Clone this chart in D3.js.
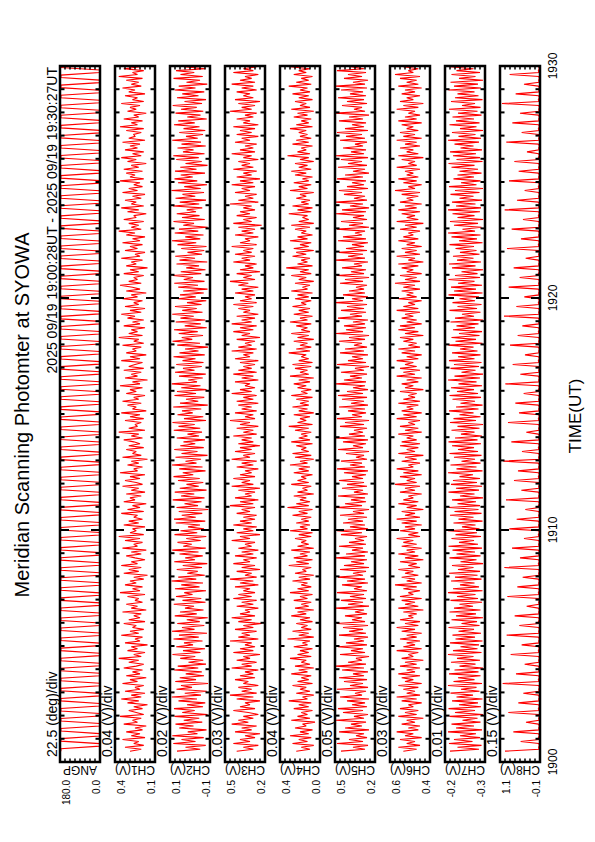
<!DOCTYPE html>
<html><head><meta charset="utf-8">
<script src="https://cdn.jsdelivr.net/npm/d3@7"></script>
<style>body{margin:0;background:#fff}svg{display:block}text{font-family:"Liberation Sans",Arial,Helvetica,sans-serif;fill:#000}</style>
</head><body>
<script>
const title = "Meridian Scanning Photomter at SYOWA";
const period = "2025 09/19 19:00:28UT - 2025 09/19 19:30:27UT";
const channels = ["ANGP","CH1(V)","CH2(V)","CH3(V)","CH4(V)","CH5(V)","CH6(V)","CH7(V)","CH8(V)"];
const divLabels = ["22.5 (deg)/div","0.04 (V)/div","0.02 (V)/div","0.03 (V)/div","0.04 (V)/div","0.05 (V)/div","0.03 (V)/div","0.01 (V)/div","0.15 (V)/div"];
const divSize = [22.5,0.04,0.02,0.03,0.04,0.05,0.03,0.01,0.15];
const rangeMin = [0,0.10,-0.08,0.23,0.03,0.14,0.38,-0.25,-0.10];
const labelHigh = ["180.0","0.4","0.1","0.5","0.4","0.5","0.6","-0.2","1.1"];
const labelLow = ["0.0","0.1","-0.1","0.2","0.0","0.2","0.4","-0.3","-0.1"];
const timeTickLabels = ["1900","1910","1920","1930"];
const timeTickSec = [0,600,1200,1800];
const startSec = 28;     // 19:00:28
const angpStep = 6.5;    // seconds between ANGP samples
const chStep = 5;        // seconds between channel samples

const angp = [176,176,2,2,176,176,2,2,176,176,2,2,176,176,2,2,176,176,2,2,176,176,2,2,176,176,2,2,176,176,2,2,
176,176,2,2,176,176,2,2,176,176,2,2,176,176,2,2,176,176,2,2,176,176,2,2,176,176,2,2,176,176,2,2,
176,176,2,2,176,176,2,2,176,176,2,2,176,176,2,2,176,176,2,2,176,176,2,2,176,176,2,2,176,176,2,2,
176,176,2,2,176,176,2,2,176,176,2,2,176,176,2,2,176,176,2,2,176,176,2,2,176,176,2,2,176,176,2,2,
176,176,2,2,176,176,2,2,176,176,2,2,176,176,2,2,176,176,2,2,176,176,2,2,176,176,2,2,176,176,2,2,
176,176,2,2,176,176,2,2,176,176,2,2,176,176,2,2,176,176,2,2,176,176,2,2,176,176,2,2,176,176,2,2,
176,176,2,2,176,176,2,2,176,176,2,2,176,176,2,2,176,176,2,2,176,176,2,2,176,176,2,2,176,176,2,2,
176,176,2,2,176,176,2,2,176,176,2,2,176,176,2,2,176,176,2,2,176,176,2,2,176,176,2,2,176,176,2,2,
176,176,2,2,176,176,2,2,176,176,2,2,176,176,2,2,176];

const ch1 = [.30,.21,.34,.19,.27,.23,.36,.18,.29,.22,.33,.20,.26,.17,.35,.24,.28,.21,.38,.19,
.25,.31,.20,.27,.16,.32,.23,.37,.21,.29,.18,.34,.22,.26,.19,.36,.24,.30,.17,.33,
.22,.28,.20,.35,.25,.19,.31,.23,.39,.21,.27,.18,.32,.24,.29,.16,.34,.22,.26,.20,
.37,.23,.30,.19,.28,.25,.35,.18,.31,.22,.27,.21,.36,.17,.29,.24,.33,.20,.26,.23,
.32,.18,.38,.22,.28,.20,.34,.25,.30,.19,.27,.16,.35,.23,.31,.21,.37,.24,.29,.18,
.26,.33,.21,.29,.17,.36,.24,.27,.20,.34,.22,.39,.19,.30,.25,.28,.18,.35,.23,.31,
.20,.27,.24,.37,.19,.32,.22,.28,.17,.35,.26,.30,.21,.33,.18,.29,.23,.36,.20,.25,
.34,.22,.30,.18,.38,.24,.27,.20,.32,.23,.29,.16,.36,.21,.28,.25,.33,.19,.31,.22,
.27,.35,.20,.29,.23,.39,.18,.31,.24,.26,.21,.34,.19,.30,.22,.37,.17,.28,.25,.32,
.21,.36,.23,.27,.18,.33,.25,.30,.20,.38,.22,.28,.16,.34,.24,.29,.21,.35,.19,.31,
.26,.20,.37,.22,.30,.17,.33,.25,.28,.21,.36,.19,.27,.23,.39,.20,.31,.24,.29,.18,
.35,.22,.28,.19,.32,.26,.37,.21,.30,.18,.34,.23,.27,.20,.36,.24,.29,.17,.33,.22,
.28,.38,.21,.31,.24,.27,.19,.35,.23,.30,.16,.33,.25,.29,.20,.37,.22,.26,.18,.34,
.24,.30,.20,.36,.22,.28,.18,.33,.26,.39,.21,.29,.23,.31,.19,.35,.25,.27,.17,.32,
.23,.37,.19,.29,.25,.34,.21,.28,.18,.36,.24,.31,.20,.27,.22,.38,.19,.30,.26,.33,
.20,.35,.23,.29,.17,.32,.25,.37,.21,.28,.19,.34,.24,.30,.22,.36,.18,.31,.26,.27,
.21,.33,.19,.38,.24,.29,.20,.35,.23,.27,.17,.32,.25,.30,.22,.37,.19,.28,.24,.34,
.18,.31,.26,.36,.21,.29,.23,.33,.20,.39,.24,.28,.19,.35,.22,.30,.17,.34,.25,.29];

const ch2 = [.052,-.041,.018,-.063,.067,-.022,.034,-.055,.071,-.030,.009,-.066,.043,-.014,.058,-.049,.025,-.037,.062,-.070,
.031,-.019,.064,-.052,.012,-.061,.046,-.028,.073,-.044,.021,-.067,.054,-.008,.036,-.072,.059,-.024,.041,-.056,
.017,-.047,.063,-.033,.049,-.064,.006,-.053,.039,-.021,.070,-.042,.028,-.060,.055,-.012,.024,-.050,.066,-.035,
.044,-.068,.072,-.018,.032,-.057,.051,-.039,.013,-.071,.061,-.027,.040,-.054,.020,-.016,.065,-.062,.030,-.045,
.056,-.010,.023,-.064,.060,-.038,.035,-.052,.074,-.025,.047,-.059,.011,-.031,.053,-.048,.029,-.069,.063,-.020,
.019,-.051,.042,-.034,.071,-.063,.027,-.007,.050,-.043,.015,-.065,.062,-.029,.038,-.056,.008,-.040,.057,-.061,
.064,-.023,.033,-.049,.045,-.073,.054,-.032,.022,-.046,.069,-.058,.036,-.017,.061,-.066,.041,-.035,.014,-.053,
.048,-.039,.066,-.013,.029,-.062,.043,-.050,.072,-.026,.018,-.044,.058,-.070,.034,-.030,.063,-.055,.039,-.021,
.026,-.060,.053,-.036,.010,-.048,.065,-.041,.046,-.019,.070,-.064,.024,-.053,.050,-.011,.032,-.045,.067,-.071,
.040,-.033,.016,-.057,.062,-.024,.052,-.066,.035,-.042,.073,-.028,.007,-.051,.044,-.063,.060,-.018,.028,-.047,
.055,-.054,.030,-.022,.066,-.059,.042,-.034,.020,-.072,.051,-.040,.070,-.009,.033,-.052,.045,-.031,.064,-.067,
.021,-.043,.057,-.061,.038,-.015,.071,-.050,.031,-.027,.060,-.046,.012,-.065,.049,-.023,.040,-.055,.027,-.070,
.047,-.032,.063,-.058,.025,-.012,.068,-.045,.037,-.062,.015,-.036,.054,-.069,.042,-.020,.059,-.048,.010,-.057,
.035,-.066,.050,-.025,.072,-.041,.019,-.054,.061,-.033,.044,-.071,.027,-.016,.066,-.059,.032,-.038,.053,-.024,
.013,-.049,.068,-.037,.041,-.064,.058,-.021,.030,-.056,.074,-.043,.023,-.068,.048,-.029,.062,-.011,.037,-.060,
.060,-.026,.039,-.070,.018,-.047,.055,-.035,.067,-.058,.028,-.014,.050,-.063,.034,-.044,.071,-.031,.016,-.052,
.043,-.061,.026,-.038,.064,-.019,.047,-.067,.011,-.042,.058,-.053,.036,-.027,.069,-.048,.022,-.064,.052,-.034,
.031,-.057,.061,-.022,.045,-.069,.014,-.040,.066,-.051,.038,-.017,.056,-.062,.024,-.035,.070,-.046,.042,-.028];

const ch3 = [.40,.30,.36,.27,.42,.32,.38,.29,.35,.26,.41,.31,.37,.28,.43,.33,.39,.30,.36,.27,
.33,.42,.29,.38,.32,.35,.26,.40,.30,.44,.28,.37,.31,.39,.27,.36,.33,.41,.29,.38,
.30,.35,.27,.43,.31,.37,.28,.40,.32,.36,.26,.42,.30,.38,.29,.35,.31,.44,.27,.39,
.32,.37,.28,.41,.30,.36,.25,.39,.31,.43,.29,.38,.32,.35,.27,.40,.30,.37,.28,.42,
.31,.39,.29,.36,.32,.41,.27,.38,.30,.44,.28,.35,.31,.40,.26,.37,.29,.42,.32,.36,
.28,.41,.30,.37,.27,.39,.31,.35,.29,.43,.32,.38,.26,.40,.30,.36,.28,.42,.31,.38,
.29,.36,.28,.40,.32,.37,.29,.44,.30,.38,.27,.41,.31,.35,.29,.39,.26,.43,.30,.37,
.32,.42,.29,.38,.31,.35,.27,.40,.30,.37,.28,.43,.32,.36,.29,.41,.31,.38,.26,.39,
.30,.37,.31,.42,.28,.36,.30,.40,.27,.38,.32,.44,.29,.35,.30,.41,.28,.37,.31,.39,
.27,.40,.30,.36,.28,.43,.31,.38,.29,.35,.32,.41,.27,.37,.30,.42,.28,.39,.31,.36,
.29,.38,.27,.41,.32,.36,.30,.43,.28,.39,.31,.35,.29,.40,.26,.37,.32,.42,.30,.38,
.28,.43,.31,.37,.29,.40,.27,.36,.32,.39,.30,.42,.28,.38,.31,.35,.29,.41,.30,.37,
.27,.39,.33,.44,.29,.36,.31,.40,.26,.38,.30,.35,.28,.42,.32,.37,.29,.41,.31,.36,
.30,.43,.28,.38,.32,.35,.27,.41,.30,.37,.29,.39,.25,.42,.31,.36,.28,.40,.32,.38,
.29,.36,.31,.44,.27,.39,.30,.35,.28,.41,.32,.37,.29,.43,.30,.38,.26,.40,.31,.36,
.28,.42,.30,.37,.32,.39,.27,.36,.31,.43,.29,.38,.30,.35,.28,.41,.32,.37,.27,.40,
.31,.38,.29,.42,.27,.36,.32,.40,.30,.35,.28,.44,.31,.37,.29,.39,.26,.41,.30,.36,
.32,.40,.28,.37,.30,.43,.29,.38,.31,.35,.27,.42,.30,.36,.28,.39,.32,.41,.29,.37];

const ch4 = [.22,.11,.18,.08,.25,.13,.20,.10,.27,.12,.19,.09,.23,.14,.17,.07,.26,.11,.21,.13,
.18,.09,.24,.12,.20,.10,.28,.13,.17,.08,.22,.11,.19,.14,.25,.09,.21,.12,.18,.10,
.26,.13,.20,.08,.23,.11,.18,.14,.27,.10,.21,.12,.19,.09,.24,.13,.17,.11,.29,.08,
.20,.12,.25,.10,.18,.13,.22,.09,.19,.11,.26,.14,.21,.08,.23,.12,.18,.10,.24,.13,
.19,.09,.27,.12,.21,.10,.18,.13,.25,.11,.20,.08,.23,.14,.17,.10,.28,.12,.22,.09,
.24,.13,.19,.11,.26,.08,.21,.12,.18,.14,.23,.10,.20,.09,.27,.13,.19,.11,.22,.12,
.18,.10,.25,.13,.20,.09,.29,.12,.22,.11,.19,.14,.24,.08,.21,.13,.17,.10,.26,.12,
.21,.14,.18,.09,.24,.12,.20,.11,.27,.13,.19,.08,.23,.10,.25,.12,.18,.14,.22,.09,
.26,.11,.20,.13,.18,.10,.23,.12,.28,.09,.21,.14,.19,.11,.24,.08,.20,.13,.25,.12,
.19,.12,.22,.09,.26,.13,.18,.10,.21,.14,.24,.11,.20,.08,.27,.12,.19,.13,.23,.10,
.25,.09,.20,.12,.18,.14,.28,.11,.22,.10,.19,.13,.24,.08,.21,.12,.26,.11,.18,.13,
.22,.10,.27,.13,.19,.09,.24,.12,.20,.11,.25,.14,.18,.10,.23,.12,.21,.09,.26,.13,
.17,.11,.23,.08,.20,.14,.26,.10,.19,.12,.30,.09,.21,.13,.18,.11,.25,.14,.22,.08,
.24,.12,.19,.10,.27,.13,.21,.09,.18,.14,.23,.11,.26,.08,.20,.12,.17,.13,.28,.10,
.21,.09,.25,.12,.18,.11,.22,.14,.19,.08,.27,.13,.20,.10,.24,.12,.17,.09,.23,.14,
.26,.10,.20,.13,.23,.08,.19,.12,.29,.11,.21,.14,.18,.09,.25,.12,.22,.10,.19,.13,
.20,.14,.27,.09,.22,.12,.18,.10,.24,.13,.21,.08,.26,.11,.19,.14,.23,.09,.20,.12,
.25,.11,.19,.13,.28,.10,.22,.12,.18,.09,.24,.14,.20,.11,.27,.08,.21,.13,.23,.10];

const ch5 = [.48,.24,.36,.21,.52,.26,.40,.22,.33,.25,.50,.20,.44,.27,.38,.23,.53,.25,.35,.21,
.46,.26,.51,.22,.37,.24,.42,.20,.49,.27,.34,.23,.52,.21,.39,.26,.45,.22,.50,.25,
.36,.21,.47,.25,.53,.23,.41,.27,.33,.20,.49,.24,.38,.26,.51,.22,.43,.25,.35,.21,
.50,.23,.40,.26,.46,.21,.52,.24,.37,.27,.44,.22,.34,.25,.53,.20,.41,.26,.48,.23,
.39,.25,.52,.22,.35,.27,.47,.21,.42,.24,.51,.26,.36,.23,.49,.20,.45,.25,.38,.22,
.53,.24,.43,.21,.37,.26,.50,.23,.40,.25,.34,.22,.48,.27,.52,.21,.39,.24,.46,.26,
.41,.22,.49,.25,.36,.20,.53,.27,.44,.23,.38,.24,.51,.21,.35,.26,.47,.22,.42,.25,
.50,.26,.37,.23,.45,.21,.52,.24,.39,.27,.48,.22,.33,.25,.43,.20,.51,.26,.36,.23,
.46,.21,.53,.24,.40,.26,.35,.22,.49,.25,.44,.20,.52,.27,.37,.23,.41,.24,.50,.21,
.38,.25,.47,.22,.51,.26,.42,.21,.36,.24,.53,.23,.45,.27,.39,.22,.48,.25,.34,.20,
.52,.23,.41,.26,.37,.21,.49,.25,.44,.22,.35,.27,.50,.24,.40,.20,.53,.26,.43,.23,
.45,.24,.36,.21,.51,.27,.39,.23,.48,.25,.42,.22,.53,.26,.37,.21,.46,.24,.40,.25,
.33,.22,.49,.26,.44,.20,.52,.25,.38,.23,.47,.27,.35,.21,.53,.24,.41,.26,.50,.22,
.43,.25,.37,.21,.51,.23,.46,.27,.34,.24,.52,.20,.40,.26,.48,.22,.36,.25,.53,.23,
.47,.20,.39,.26,.53,.22,.35,.24,.45,.27,.50,.21,.42,.25,.37,.23,.52,.26,.44,.20,
.36,.24,.51,.22,.41,.27,.48,.21,.53,.25,.38,.23,.46,.26,.34,.22,.49,.24,.43,.27,
.52,.21,.44,.25,.37,.23,.50,.26,.40,.20,.53,.24,.35,.27,.47,.22,.42,.25,.51,.23,
.39,.26,.48,.22,.53,.24,.36,.21,.45,.27,.41,.23,.52,.25,.38,.20,.49,.26,.44,.22];

const ch6 = [.54,.46,.57,.44,.52,.47,.56,.43,.53,.48,.58,.45,.51,.44,.55,.47,.52,.42,.57,.46,
.53,.45,.56,.48,.51,.43,.55,.46,.58,.44,.52,.47,.54,.45,.57,.43,.53,.48,.55,.44,
.57,.47,.52,.44,.56,.46,.53,.42,.55,.48,.51,.45,.58,.43,.54,.47,.52,.44,.56,.46,
.52,.43,.55,.47,.58,.45,.53,.44,.56,.48,.51,.46,.54,.42,.57,.45,.53,.47,.55,.43,
.56,.48,.51,.44,.54,.46,.59,.43,.52,.47,.55,.45,.53,.48,.57,.44,.51,.46,.56,.42,
.53,.45,.57,.47,.52,.43,.55,.46,.54,.48,.58,.44,.51,.45,.56,.47,.53,.43,.55,.46,
.58,.44,.53,.47,.55,.42,.52,.46,.57,.45,.54,.48,.51,.43,.56,.47,.53,.44,.59,.46,
.52,.47,.56,.43,.54,.45,.58,.48,.51,.44,.55,.46,.53,.42,.57,.47,.52,.45,.56,.44,
.55,.46,.52,.48,.57,.43,.53,.45,.56,.47,.51,.44,.58,.46,.54,.43,.55,.48,.52,.45,
.57,.44,.54,.47,.51,.46,.56,.42,.53,.48,.55,.45,.52,.43,.58,.47,.54,.44,.56,.46,
.53,.48,.58,.45,.52,.43,.55,.47,.57,.44,.51,.46,.54,.48,.56,.42,.53,.45,.57,.47,
.56,.43,.52,.46,.55,.48,.53,.44,.58,.45,.54,.47,.51,.43,.57,.46,.52,.48,.55,.44,
.54,.47,.59,.44,.53,.46,.56,.43,.52,.48,.55,.45,.57,.42,.51,.47,.58,.44,.53,.46,
.55,.43,.52,.47,.57,.45,.54,.48,.51,.44,.56,.46,.53,.42,.58,.45,.52,.47,.55,.44,
.57,.46,.53,.43,.56,.48,.52,.45,.55,.44,.59,.47,.51,.43,.54,.46,.57,.45,.52,.48,
.53,.44,.58,.46,.51,.47,.55,.42,.57,.45,.52,.48,.56,.44,.53,.46,.58,.43,.54,.47,
.56,.45,.52,.48,.55,.43,.57,.46,.53,.44,.51,.47,.58,.45,.54,.42,.56,.48,.52,.44,
.55,.47,.53,.43,.57,.45,.52,.46,.56,.44,.59,.48,.51,.45,.54,.43,.57,.46,.53,.47];

const ch7 = [-.180,-.238,-.195,-.243,-.178,-.225,-.188,-.240,-.200,-.232,-.176,-.244,-.192,-.228,-.183,-.241,-.205,-.235,-.179,-.246,
-.190,-.230,-.177,-.242,-.198,-.236,-.184,-.245,-.193,-.226,-.181,-.239,-.202,-.233,-.176,-.244,-.187,-.229,-.196,-.241,
-.178,-.237,-.189,-.246,-.199,-.231,-.182,-.240,-.194,-.227,-.176,-.243,-.186,-.235,-.201,-.238,-.180,-.245,-.191,-.230,
-.185,-.242,-.197,-.228,-.177,-.239,-.203,-.234,-.183,-.246,-.192,-.232,-.179,-.241,-.188,-.226,-.199,-.244,-.181,-.236,
-.194,-.231,-.176,-.245,-.186,-.238,-.200,-.229,-.182,-.243,-.190,-.235,-.178,-.240,-.196,-.227,-.184,-.246,-.201,-.233,
-.179,-.241,-.193,-.230,-.185,-.244,-.177,-.236,-.198,-.228,-.183,-.242,-.191,-.234,-.176,-.239,-.204,-.231,-.187,-.245,
-.197,-.227,-.180,-.243,-.189,-.237,-.178,-.240,-.195,-.232,-.184,-.246,-.200,-.229,-.177,-.238,-.192,-.244,-.182,-.234,
-.186,-.240,-.199,-.226,-.176,-.245,-.193,-.233,-.181,-.241,-.203,-.230,-.188,-.243,-.179,-.236,-.196,-.228,-.184,-.242,
-.177,-.235,-.190,-.244,-.202,-.229,-.183,-.239,-.195,-.246,-.180,-.232,-.187,-.241,-.199,-.227,-.178,-.237,-.192,-.245,
-.201,-.230,-.185,-.242,-.179,-.236,-.194,-.228,-.182,-.244,-.197,-.233,-.176,-.240,-.189,-.246,-.203,-.231,-.181,-.238,
-.188,-.243,-.178,-.229,-.196,-.241,-.184,-.235,-.200,-.227,-.177,-.245,-.191,-.232,-.183,-.239,-.198,-.244,-.186,-.230,
-.193,-.237,-.181,-.246,-.190,-.228,-.204,-.241,-.179,-.234,-.195,-.243,-.185,-.230,-.199,-.238,-.177,-.245,-.188,-.232,
-.182,-.244,-.196,-.229,-.177,-.240,-.190,-.235,-.203,-.246,-.184,-.231,-.178,-.242,-.194,-.227,-.186,-.239,-.200,-.233,
-.191,-.228,-.179,-.245,-.198,-.234,-.183,-.241,-.176,-.230,-.205,-.243,-.188,-.236,-.180,-.246,-.195,-.229,-.185,-.240,
-.176,-.242,-.192,-.231,-.184,-.244,-.199,-.227,-.181,-.239,-.190,-.246,-.178,-.233,-.202,-.241,-.187,-.228,-.195,-.243,
-.199,-.236,-.183,-.229,-.177,-.245,-.193,-.240,-.186,-.232,-.180,-.244,-.201,-.227,-.189,-.238,-.176,-.242,-.197,-.231,
-.184,-.246,-.200,-.233,-.179,-.239,-.192,-.228,-.185,-.243,-.196,-.235,-.178,-.241,-.204,-.230,-.182,-.245,-.190,-.237,
-.195,-.229,-.177,-.242,-.188,-.236,-.181,-.246,-.198,-.231,-.183,-.240,-.193,-.227,-.179,-.244,-.202,-.234,-.186,-.239];

const ch8 = [.95,-.07,-.06,-.08,-.06,.48,-.07,-.05,-.08,-.06,.70,-.07,-.06,-.08,-.05,.32,-.07,-.06,-.08,-.06,
.85,-.07,-.05,-.08,-.06,.55,-.07,-.06,-.08,-.05,.40,-.07,-.06,-.08,-.06,1.02,-.07,-.05,-.08,-.06,
.62,-.07,-.06,-.08,-.05,.36,-.07,-.06,-.08,-.06,.78,-.07,-.05,-.08,-.06,.45,-.07,-.06,-.08,-.05,
.90,-.07,-.06,-.08,-.06,.52,-.07,-.05,-.08,-.06,.66,-.07,-.06,-.08,-.05,.30,-.07,-.06,-.08,-.06,
.88,-.07,-.05,-.08,-.06,.58,-.07,-.06,-.08,-.05,.42,-.07,-.06,-.08,-.06,.97,-.07,-.05,-.08,-.06,
.50,-.07,-.06,-.08,-.05,.74,-.07,-.06,-.08,-.06,.38,-.07,-.05,-.08,-.06,.82,-.07,-.06,-.08,-.05,
.60,-.07,-.06,-.08,-.06,.34,-.07,-.05,-.08,-.06,.92,-.07,-.06,-.08,-.05,.46,-.07,-.06,-.08,-.06,
.68,-.07,-.05,-.08,-.06,.56,-.07,-.06,-.08,-.05,1.00,-.07,-.06,-.08,-.06,.44,-.07,-.05,-.08,-.06,
.76,-.07,-.06,-.08,-.05,.31,-.07,-.06,-.08,-.06,.86,-.07,-.05,-.08,-.06,.53,-.07,-.06,-.08,-.05,
.64,-.07,-.06,-.08,-.06,.39,-.07,-.05,-.08,-.06,.94,-.07,-.06,-.08,-.05,.49,-.07,-.06,-.08,-.06,
.72,-.07,-.05,-.08,-.06,.35,-.07,-.06,-.08,-.05,.80,-.07,-.06,-.08,-.06,.57,-.07,-.05,-.08,-.06,
.43,-.07,-.06,-.08,-.05,.98,-.07,-.06,-.08,-.06,.61,-.07,-.05,-.08,-.06,.37,-.07,-.06,-.08,-.05,
.84,-.07,-.06,-.08,-.06,.51,-.07,-.05,-.08,-.06,.69,-.07,-.06,-.08,-.05,.33,-.07,-.06,-.08,-.06,
.89,-.07,-.05,-.08,-.06,.47,-.07,-.06,-.08,-.05,.75,-.07,-.06,-.08,-.06,.41,-.07,-.05,-.08,-.06,
.96,-.07,-.06,-.08,-.05,.59,-.07,-.06,-.08,-.06,.36,-.07,-.05,-.08,-.06,.83,-.07,-.06,-.08,-.05,
.54,-.07,-.06,-.08,-.06,.67,-.07,-.05,-.08,-.06,.29,-.07,-.06,-.08,-.05,.91,-.07,-.06,-.08,-.06,
.45,-.07,-.05,-.08,-.06,.73,-.07,-.06,-.08,-.05,.50,-.07,-.06,-.08,-.06,1.04,-.07,-.05,-.08,-.06,
.63,-.07,-.06,-.08,-.05,.38,-.07,-.06,-.08,-.06,.81,-.07,-.05,-.08,-.06,.48,-.07,-.06,-.08,-.05];

const series = [angp,ch1,ch2,ch3,ch4,ch5,ch6,ch7,ch8];
const steps = [angpStep,chStep,chStep,chStep,chStep,chStep,chStep,chStep,chStep];

const W = 595, H = 842;
const svg = d3.select("body").append("svg").attr("width",W).attr("height",H);
const band = d3.scaleBand().domain(channels).range([60,540]).paddingInner(15/55).paddingOuter(0);
const ty = d3.scaleLinear().domain([0,1800]).range([762,66]);
const bw = band.bandwidth();
const minuteTicks = d3.range(0,1801,60);

const defs = svg.append("defs");

channels.forEach((ch,i)=>{
  const x0 = band(ch);
  const xs = d3.scaleLinear().domain([rangeMin[i]+8*divSize[i], rangeMin[i]]).range([x0, x0+bw]);
  const g = svg.append("g");
  defs.append("clipPath").attr("id","clip"+i).append("rect")
    .attr("x",x0).attr("y",ty(1800)).attr("width",bw).attr("height",ty(0)-ty(1800));
  const data = series[i].map((v,k)=>({t:startSec+k*steps[i], v})).filter(d=>d.t<=1800);
  const line = d3.line().x(d=>xs(d.v)).y(d=>ty(d.t));
  g.append("path").datum(data).attr("clip-path","url(#clip"+i+")")
    .attr("d",line).attr("fill","none").attr("stroke","#ff0000").attr("stroke-width",1.1)
    .attr("stroke-linejoin","miter").attr("stroke-miterlimit",2);
  minuteTicks.forEach(s=>{
    const len = (s%600===0)?9:4.5;
    g.append("line").attr("x1",x0).attr("x2",x0+len).attr("y1",ty(s)).attr("y2",ty(s)).attr("stroke","#000").attr("stroke-width",2);
    g.append("line").attr("x1",x0+bw).attr("x2",x0+bw-len).attr("y1",ty(s)).attr("y2",ty(s)).attr("stroke","#000").attr("stroke-width",2);
  });
  d3.range(1,8).forEach(k=>{
    const xv = xs(rangeMin[i]+k*divSize[i]);
    g.append("line").attr("x1",xv).attr("x2",xv).attr("y1",ty(0)).attr("y2",ty(0)-3.5).attr("stroke","#000").attr("stroke-width",1.5);
    g.append("line").attr("x1",xv).attr("x2",xv).attr("y1",ty(1800)).attr("y2",ty(1800)+3.5).attr("stroke","#000").attr("stroke-width",1.5);
  });
  g.append("rect").attr("x",x0).attr("y",ty(1800)).attr("width",bw).attr("height",ty(0)-ty(1800))
    .attr("fill","none").attr("stroke","#000").attr("stroke-width",2.5);
  svg.append("text").attr("transform",`translate(${x0-3},757) rotate(-90)`)
    .attr("font-size",14).text(divLabels[i]);
  svg.append("text").attr("transform",`translate(${x0+bw/2},766) rotate(180)`)
    .attr("text-anchor","middle").attr("font-size",12).text(ch);
  svg.append("text").attr("transform",`translate(${x0+10},780) rotate(-90)`)
    .attr("text-anchor","end").attr("font-size",10).text(labelHigh[i]);
  svg.append("text").attr("transform",`translate(${x0+bw},780) rotate(-90)`)
    .attr("text-anchor","end").attr("font-size",10).text(labelLow[i]);
});

timeTickLabels.forEach((lab,i)=>{
  svg.append("text").attr("transform",`translate(557,${ty(timeTickSec[i])}) rotate(-90)`)
    .attr("text-anchor","middle").attr("font-size",12).text(lab);
});
svg.append("text").attr("transform","translate(581,416) rotate(-90)")
  .attr("text-anchor","middle").attr("font-size",17).text("TIME(UT)");
svg.append("text").attr("transform","translate(29,415) rotate(-90)")
  .attr("text-anchor","middle").attr("font-size",20).text(title);
svg.append("text").attr("transform","translate(57,67) rotate(-90)")
  .attr("text-anchor","end").attr("font-size",14).text(period);
</script>
</body></html>
